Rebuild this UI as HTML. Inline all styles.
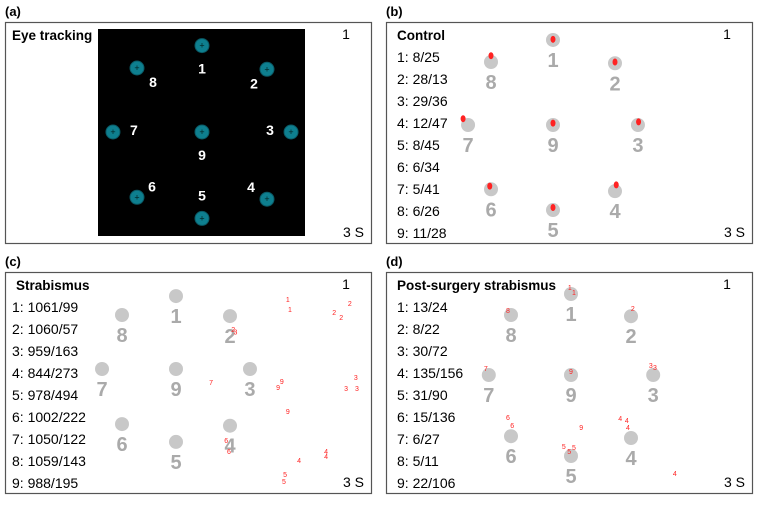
<!DOCTYPE html>
<html><head><meta charset="utf-8">
<style>
body{margin:0;background:#fff;width:759px;height:500px;overflow:hidden;font-family:"Liberation Sans",sans-serif}
svg text{font-family:"Liberation Sans",sans-serif}
</style></head><body>
<svg id="s" width="759" height="500"></svg>
<script>
const panelLabels=["(a)","(b)","(c)","(d)"];
const panelTitles=["Eye tracking","Control","Strabismus","Post-surgery strabismus"];
const panelOrigins=[[5,22],[386,22],[5,272],[386,272]];
const targetIds=[1,2,3,4,5,6,7,8,9];
const targetGX=[0,1,1.37,1,0,-1,-1.37,-1,0];
const targetGY=[-1.35,-0.98,0,1.05,1.35,1.02,0,-1,0];
const ctrlStats=["8/25","28/13","29/36","12/47","8/45","6/34","5/41","6/26","11/28"];
const strabStats=["1061/99","1060/57","959/163","844/273","978/494","1002/222","1050/122","1059/143","988/195"];
const postStats=["13/24","8/22","30/72","135/156","31/90","15/136","6/27","5/11","22/106"];
// gaze samples [target, gx, gy]
const ctrlGaze=[[1,0,-1.36],[2,1,-1.0],[3,1.38,-0.05],[4,1.02,0.95],[5,0,1.31],[6,-1.02,0.97],[7,-1.45,-0.1],[8,-1,-1.1],[9,0,-0.03]];
const strabGaze=[[1,2.07,-1.28],[1,2.11,-1.09],[2,2.93,-1.04],[2,3.06,-0.94],[2,3.22,-1.2],[2,1.06,-0.72],[3,1.1,-0.68],[7,0.65,0.26],[9,1.96,0.24],[9,1.89,0.35],[3,3.15,0.37],[3,3.33,0.17],[3,3.35,0.37],[9,2.07,0.8],[6,0.93,1.33],[6,0.98,1.54],[4,2.28,1.7],[4,2.78,1.54],[4,2.78,1.63],[5,2.02,1.96],[5,2.0,2.09]];
const postGaze=[[1,-0.02,-1.45],[1,0.05,-1.37],[2,1.03,-1.1],[8,-1.05,-1.07],[7,-1.42,-0.1],[9,0,-0.05],[3,1.33,-0.15],[3,1.4,-0.12],[6,-1.05,0.72],[6,-0.98,0.85],[9,0.17,0.88],[4,0.82,0.73],[4,0.93,0.77],[4,0.95,0.88],[5,-0.12,1.2],[5,-0.03,1.28],[5,0.05,1.22],[4,1.73,1.65]];
const svg=document.getElementById('s');
const NS='http://www.w3.org/2000/svg';
function mk(tag,attrs,parent,txt){const e=document.createElementNS(NS,tag);for(const k in attrs)e.setAttribute(k,attrs[k]);if(txt!==undefined)e.textContent=txt;(parent||svg).appendChild(e);return e;}
const centers=[[197,110],[167,103],[171,97],[185,103]];
const unitX=[65,62,54,60];
const unitY=[64,63,54,60];
function px(p,gx){return panelOrigins[p][0]+centers[p][0]+gx*unitX[p];}
function py(p,gy){return panelOrigins[p][1]+centers[p][1]+gy*unitY[p];}
const statsList=[null,ctrlStats,strabStats,postStats];
const gazeList=[null,ctrlGaze,strabGaze,postGaze];
for(let p=0;p<4;p++){
  const [ox,oy]=panelOrigins[p];
  let t=mk('text',{x:ox,y:oy-6,'font-size':13,'font-weight':'bold',fill:'#000'},svg,panelLabels[p]);
  
  
  const r=mk('rect',{x:ox+0.5,y:oy+0.5,width:366,height:221,fill:'#fff',stroke:'#555','stroke-width':1.2});
  
  
  if(p===0){
    const b=mk('rect',{x:98,y:29,width:207,height:207,fill:'#000'});
    
    
  }
  t=mk('text',{x:ox+(p===0?7:11),y:oy+18,'font-size':13.5,'font-weight':'bold',fill:'#000'},svg,panelTitles[p]);
  
  
  t=mk('text',{x:ox+341,y:oy+17,'font-size':14,'text-anchor':'middle'},svg,'1');
  
  
  t=mk('text',{x:ox+359,y:oy+215,'font-size':14,'text-anchor':'end'},svg,'3 S');
  
  
  if(statsList[p]){
    statsList[p].forEach((s,i)=>{
      const e=mk('text',{x:ox+(p===2?7:11),y:oy+40+i*22,'font-size':14},svg,targetIds[i]+': '+s);
      
      
    });
  }
  targetIds.forEach((id,i)=>{
    const x=px(p,targetGX[i]),y=py(p,targetGY[i]);
    if(p===0){
      const c=mk('circle',{cx:x,cy:y,r:7,fill:'#0e7f8f',stroke:'#0a5a66','stroke-width':1});
      
      
      mk('text',{x:x,y:y+3,'font-size':9,'text-anchor':'middle',fill:'#022'},svg,'+');
      const off=[[0,23],[-13,14],[-21,-2],[-16,-12],[0,-23],[15,-11],[21,-2],[16,14],[0,23]][i];
      const l=mk('text',{x:x+off[0],y:y+off[1]+5,'font-size':14,'font-weight':'bold','text-anchor':'middle',fill:'#fff'},svg,String(id));
      
      
    } else {
      const c=mk('circle',{cx:x,cy:y,r:7,fill:'#c8c8c8'});
      
      
      const l=mk('text',{x:x,y:y+27,'font-size':20,'font-weight':'bold','text-anchor':'middle',fill:'#aaa'},svg,String(id));
      
      
    }
  });
  if(gazeList[p]){
    gazeList[p].forEach(g=>{
      const x=px(p,g[1]),y=py(p,g[2]);
      if(p===1){
        const e=mk('ellipse',{cx:x,cy:y,rx:2.5,ry:3.5,fill:'#f22'});
        
        
      } else {
        const e=mk('text',{x:x,y:y+2,'font-size':7,'text-anchor':'middle',fill:'#f22'},svg,String(g[0]));
        
        
      }
    });
  }
}
</script>
</body></html>
